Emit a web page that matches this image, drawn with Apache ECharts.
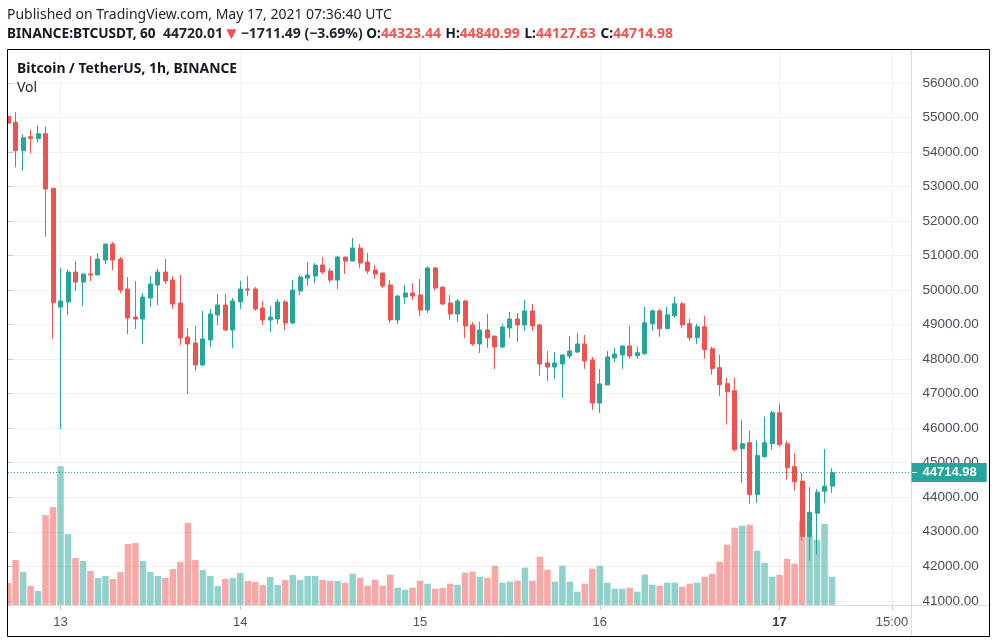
<!DOCTYPE html>
<html lang="en">
<head>
<meta charset="utf-8">
<title>BTCUSDT 1h</title>
<script src="https://cdn.jsdelivr.net/npm/echarts@6/dist/echarts.min.js"></script>
<style>
    html, body { margin: 0; padding: 0; background: #fff; }
    #chart { width: 997px; height: 644px; }
</style>
</head>
<body>
<div id="chart"></div>
<script>
// hourly candles, first one is May 12 19:00 UTC
var opens = [55040,54865,54040,54445,54385,54530,52950,49510,49656,50524,50234,50466,50437,50871,51334,50900,50032,49221,49164,49771,50148,50524,50292,49627,48642,48469,47832,48556,49279,49569,48845,49656,50032,50032,49482,49135,49164,49656,49048,49974,50350,50408,50726,50553,50292,
    50958,50842,51219,50813,50582,50495,50148,49135,49800,49916,49858,49424,50640,50090,49627,49308,49684,48990,48440,48845,48671,48353,48903,49164,48990,49395,48990,47890,47774,47861,48092,48208,48440,47977,46732,47253,48035,48121,48382,
    48099,48157,49026,49402,48881,49257,49604,49026,48620,48939,48302,47752,47289,47086,45408,45581,44076,45176,45552,46450,45552,44887,44467,42867,43536,44176,44323.44];
var closes = [54836,54040,54415,54395,54530,52930,49636,49684,50524,50234,50466,50437,50900,51334,50871,50003,49192,49164,49800,50177,50524,50263,49598,48614,48440,47832,48585,49308,49569,48845,49684,50032,50003,49453,49135,49221,49656,49048,50003,50379,50437,50726,50524,50292,50958,
    50842,51219,50784,50553,50466,50119,49135,49829,49916,49829,49424,50640,50061,49598,49308,49684,48961,48440,48845,48614,48353,48932,49164,48990,49395,48961,47861,47774,47890,48121,48237,48440,47948,46732,47282,48064,48150,48382,48092,
    48186,49055,49402,48881,49286,49604,48997,48620,48939,48273,47723,47260,47057,45379,45552,44076,45205,45581,46450,45523,44857,44452,42867,43565,44147,44322,44714.98];
var lows = [54662,53556,53460,53960,54280,51546,48594,45980,49279,49974,49540,50263,50437,50755,50582,49916,48729,48874,48440,49511,49569,50177,49453,48411,46993,47658,47803,48353,48990,48816,48324,49453,49829,49395,48990,48787,49019,48845,49019,49858,50119,50205,50466,50205,50032,
    50466,50842,50640,50466,50321,50061,49048,49019,49598,49713,49250,49337,50003,49569,49135,49077,48614,48382,48179,48324,47716,48324,48614,48498,48816,48816,47514,47369,47427,46877,48006,48179,47716,46530,46443,47253,47919,47716,48025,
    48013,48128,48823,48649,48881,49199,48910,48534,48447,48013,47549,46942,46102,45321,44423,43816,43845,45147,45379,45465,44510,44192,42750,42169,42343,43827,44127.63];
var highs = [55357,55155,54520,54640,54765,54735,52960,50640,50601,50842,50485,50987,51074,51334,51392,50958,50379,50263,49916,50408,50611,50900,50408,50437,48903,48961,49395,49453,49887,49887,49771,50263,50408,50090,49684,49540,49742,49713,50292,50437,50813,50784,50958,50640,50987,
    50958,51508,51334,51074,50726,50495,50292,49858,50148,50205,50321,50698,50669,50090,49858,49742,49713,49077,49077,49308,48671,49019,49366,49337,49713,49598,49019,48237,48208,48121,48671,48758,48700,48064,47716,48237,48324,48411,48961,
    48360,49518,49431,49460,49518,49807,49662,49170,49026,49257,48360,48128,47463,47463,46247,45929,45639,46334,46507,46710,45639,45263,44700,44293,44235,45399,44840.99];
var volumes = [1980,4050,2970,1710,1260,8100,8820,12510,6390,4230,3960,3060,2430,2610,2340,2970,5490,5580,3960,2970,2610,2430,3240,3870,7380,4050,3150,2610,1710,2340,2430,2880,2160,2070,1800,2520,1800,2250,2700,2250,2610,2610,2250,2160,2160,
    2010,2820,2460,1740,2280,1740,2730,1560,1380,1560,2190,1920,1470,1560,1920,1830,2910,3000,2550,2460,3540,2010,2100,2190,3360,2190,4350,3180,2100,3540,2100,1200,1920,3270,3540,2010,1470,1470,1560,
    1200,2730,1830,1740,2010,2010,1650,1920,2010,2550,2820,3900,5430,6960,7140,7230,4890,3810,2550,2730,4170,3720,7590,6270,5880,7320,2550];
var priceTicks = [41000,42000,43000,44000,45000,46000,47000,48000,49000,50000,51000,52000,53000,54000,55000,56000];
// hour offsets from the first candle -> axis text
var timeTicks = [7, 31, 55, 79, 103, 118];
var timeLabels = ['13', '14', '15', '16', '17', '15:00'];
var lastPrice = 44714.98;

var UP = '#26a69a', DOWN = '#ef5350';
var TEXT_FONT = '"Noto Sans", sans-serif';
var AXIS_FONT = '"Liberation Sans", Arial, sans-serif';

var candles = opens.map(function (o, i) { return [i, o, closes[i], lows[i], highs[i]]; });
var bars = volumes.map(function (v, i) {
    return {
        value: [i, v],
        itemStyle: { color: closes[i] >= opens[i] ? UP : DOWN, opacity: 0.5 }
    };
});

var chart = echarts.init(document.getElementById('chart'));
chart.setOption({
    animation: false,
    backgroundColor: '#fff',
    textStyle: { fontFamily: TEXT_FONT },
    title: [
        {
            left: 7, top: 8, padding: 0,
            text: 'Published on TradingView.com, May 17, 2021 07:36:40 UTC',
            textStyle: { fontSize: 14, fontWeight: 'normal', color: '#222631', fontFamily: TEXT_FONT }
        },
        {
            left: 7, top: 25.5, padding: 0,
            text: '{b|BINANCE:BTCUSDT, 60}{n|  44720.01}{a|▼}{n|−1711.49 (−3.69%) }{b|O:}{r|44323.44} {b|H:}{r|44840.99} {b|L:}{r|44127.63} {b|C:}{r|44714.98}',
            textStyle: {
                rich: {
                    b: { fontSize: 13.6, fontWeight: 'bold', color: '#131722', fontFamily: TEXT_FONT },
                    n: { fontSize: 14, color: '#222631', fontFamily: TEXT_FONT },
                    r: { fontSize: 14, color: DOWN, fontFamily: TEXT_FONT },
                    a: { fontSize: 17, color: DOWN, fontFamily: TEXT_FONT, padding: [0, 1, 0, 0] }
                }
            }
        },
        {
            left: 17, top: 62, padding: 0,
            text: 'Bitcoin / TetherUS, 1h, BINANCE',
            textStyle: { fontSize: 13.9, fontWeight: 'bold', color: '#131722', fontFamily: TEXT_FONT }
        },
        {
            left: 17, top: 81, padding: 0,
            text: 'Vol',
            textStyle: { fontSize: 14, fontWeight: 'normal', color: '#222631', fontFamily: TEXT_FONT }
        }
    ],
    grid: { left: 8, top: 50, width: 903.5, height: 555 },
    xAxis: {
        type: 'value',
        min: -0.013,
        max: 120.61,
        axisLine: { show: false },
        axisTick: { show: true, customValues: timeTicks, length: 5, lineStyle: { color: '#c8c8c8' } },
        splitLine: { show: true, lineStyle: { color: '#f0f1f3', width: 1 } },
        axisLabel: {
            customValues: timeTicks,
            margin: 11,
            fontFamily: AXIS_FONT,
            fontSize: 13,
            color: '#50535e',
            formatter: function (v) {
                var s = timeLabels[timeTicks.indexOf(v)];
                return s === '17' ? '{bold|17}' : s;
            },
            rich: { bold: { fontWeight: 'bold', fontSize: 13, color: '#363a45', fontFamily: AXIS_FONT } }
        }
    },
    yAxis: [
        {
            type: 'value',
            position: 'right',
            min: 40878,
            max: 56956,
            axisLine: { show: false },
            axisTick: { show: true, customValues: priceTicks, length: 5, lineStyle: { color: '#c8c8c8' } },
            splitLine: { show: true, lineStyle: { color: '#f0f1f3', width: 1 } },
            axisLabel: {
                customValues: priceTicks,
                margin: 11,
                fontFamily: AXIS_FONT,
                fontSize: 13.5,
                color: '#4a4e59',
                formatter: function (v) { return v.toFixed(2); }
            }
        },
        { type: 'value', min: 0, max: 50000, show: false }
    ],
    series: [
        {
            name: 'Vol',
            type: 'bar',
            yAxisIndex: 1,
            barWidth: 6.5,
            data: bars
        },
        {
            name: 'BTCUSDT',
            type: 'candlestick',
            barWidth: 4.5,
            itemStyle: {
                color: UP, color0: DOWN,
                borderColor: UP, borderColor0: DOWN,
                borderWidth: 1
            },
            data: candles,
            markLine: {
                silent: true,
                symbol: 'none',
                animation: false,
                lineStyle: { color: UP, type: [1, 2], width: 1, opacity: 1 },
                label: {
                    show: true,
                    position: 'end',
                    distance: 0,
                    formatter: function () { return lastPrice.toFixed(2); },
                    backgroundColor: UP,
                    color: '#fff',
                    fontFamily: AXIS_FONT,
                    fontWeight: 'bold',
                    fontSize: 13,
                    padding: [3, 10, 3, 11]
                },
                data: [{ yAxis: lastPrice }]
            }
        }
    ],
    graphic: [
        // the first candle is cut off at the frame
        { type: 'rect', z: 40, shape: { x: 0, y: 50, width: 7.5, height: 556 }, style: { fill: '#fff' } },
        { type: 'rect', z: 50, shape: { x: 7.5, y: 49.5, width: 982, height: 587 }, style: { fill: 'none', stroke: '#000', lineWidth: 1 } },
        { type: 'line', z: 1, shape: { x1: 911.5, y1: 50, x2: 911.5, y2: 636 }, style: { stroke: '#dcdcdc', lineWidth: 1 } },
        { type: 'line', z: 1, shape: { x1: 8, y1: 605.5, x2: 989, y2: 605.5 }, style: { stroke: '#dcdcdc', lineWidth: 1 } },
        { type: 'line', z: 40, shape: { x1: 912, y1: 472.5, x2: 917, y2: 472.5 }, style: { stroke: '#fff', lineWidth: 1 } }
    ]
});
</script>
</body>
</html>
